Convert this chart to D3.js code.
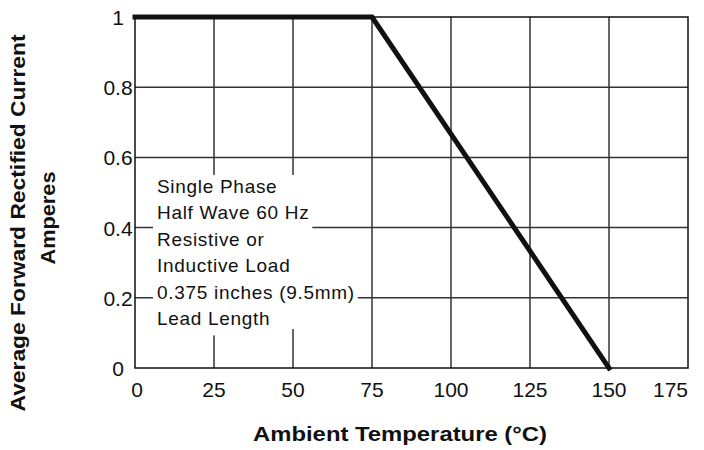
<!DOCTYPE html>
<html>
<head>
<meta charset="utf-8">
<script src="https://cdn.jsdelivr.net/npm/d3@7"></script>
<style>
  body { margin: 0; background: #fff; }
  text { font-family: "Liberation Sans", Arial, sans-serif; fill: #111; }
</style>
</head>
<body>
<div id="chart"></div>
<script>
// derating curve values
const temps = [0, 75, 150];
const current = [1, 1, 0];
const xTicks = [0, 25, 50, 75, 100, 125, 150, 175];
const yTicks = [0, 0.2, 0.4, 0.6, 0.8, 1];
const yTickLabels = ['0', '0.2', '0.4', '0.6', '0.8', '1'];
const noteLines = [
  'Single Phase',
  'Half Wave 60 Hz',
  'Resistive or',
  'Inductive Load',
  '0.375 inches (9.5mm)',
  'Lead Length'
];

const width = 704, height = 450;
const margin = { left: 135, right: 16, top: 17, bottom: 82 };

const svg = d3.select('#chart').append('svg')
  .attr('width', width)
  .attr('height', height);

const x = d3.scaleLinear().domain([0, 175]).range([margin.left, width - margin.right]);
const y = d3.scaleLinear().domain([0, 1]).range([height - margin.bottom, margin.top]);

// vertical grid
svg.append('g').selectAll('line')
  .data(xTicks.slice(1, -1))
  .enter().append('line')
  .attr('x1', d => x(d)).attr('x2', d => x(d))
  .attr('y1', y(0)).attr('y2', y(1))
  .attr('stroke', '#333').attr('stroke-width', 1.5);

// note block hides vertical lines
const noteX = 157, noteBase = 193, notePitch = 26.4;
const note = svg.append('g').style('font-size', '19px').style('letter-spacing', '0.7px');
const tmp = note.selectAll('text.m').data(noteLines).enter().append('text')
  .attr('x', noteX).attr('y', (d, i) => noteBase + i * notePitch).text(d => d);
const widths = [];
tmp.each(function () { widths.push(this.getComputedTextLength()); });
tmp.remove();

svg.insert('rect', 'g:last-child')
  .attr('x', noteX - 4).attr('y', noteBase - 18)
  .attr('width', d3.max(widths) + 8)
  .attr('height', (noteLines.length - 1) * notePitch + 22)
  .attr('fill', '#fff');

// horizontal grid
const hgrid = svg.insert('g', 'g:last-child');
hgrid.selectAll('line')
  .data(yTicks.slice(1, -1))
  .enter().append('line')
  .attr('x1', x(0)).attr('x2', x(175))
  .attr('y1', d => y(d)).attr('y2', d => y(d))
  .attr('stroke', '#333').attr('stroke-width', 1.5);

// per-line backgrounds
note.selectAll('rect').data(noteLines).enter().append('rect')
  .attr('x', noteX - 4)
  .attr('y', (d, i) => noteBase + i * notePitch - 17)
  .attr('width', (d, i) => widths[i] + 7)
  .attr('height', notePitch + 1)
  .attr('fill', '#fff');

note.selectAll('text').data(noteLines).enter().append('text')
  .attr('x', noteX).attr('y', (d, i) => noteBase + i * notePitch).text(d => d);

// frame
svg.append('rect')
  .attr('x', x(0)).attr('y', y(1))
  .attr('width', x(175) - x(0)).attr('height', y(0) - y(1))
  .attr('fill', 'none').attr('stroke', '#111').attr('stroke-width', 1.5);

// curve
const pts = temps.map((t, i) => [t, current[i]]);
svg.append('path')
  .datum(pts)
  .attr('d', d3.line().x(d => x(d[0])).y(d => y(d[1])))
  .attr('fill', 'none').attr('stroke', '#111')
  .attr('stroke-width', 5).attr('stroke-linejoin', 'miter')
  .attr('stroke-linecap', 'square');

// x tick labels
svg.append('g').style('font-size', '21px').selectAll('text')
  .data(xTicks).enter().append('text')
  .attr('x', (d, i) => i === xTicks.length - 1 ? x(d) : x(d) + (i === 0 ? 2 : 0))
  .attr('y', y(0) + 29)
  .attr('text-anchor', (d, i) => i === xTicks.length - 1 ? 'end' : 'middle')
  .text(d => d);

// y tick labels
svg.append('g').style('font-size', '21px').selectAll('text')
  .data(yTicks).enter().append('text')
  .attr('x', margin.left - 17)
  .attr('y', d => y(d) + 8)
  .attr('text-anchor', 'middle')
  .text((d, i) => yTickLabels[i]);

// axis titles
svg.append('text')
  .attr('x', 400).attr('y', 441)
  .attr('text-anchor', 'middle')
  .attr('textLength', 294).attr('lengthAdjust', 'spacingAndGlyphs')
  .style('font-size', '20px').style('font-weight', 'bold')
  .text('Ambient Temperature (°C)');

svg.append('text')
  .attr('transform', 'rotate(-90)')
  .attr('x', -223).attr('y', 25)
  .attr('text-anchor', 'middle')
  .attr('textLength', 377).attr('lengthAdjust', 'spacingAndGlyphs')
  .style('font-size', '21px').style('font-weight', 'bold')
  .text('Average Forward Rectified Current');

svg.append('text')
  .attr('transform', 'rotate(-90)')
  .attr('x', -218).attr('y', 55)
  .attr('text-anchor', 'middle')
  .attr('textLength', 93).attr('lengthAdjust', 'spacingAndGlyphs')
  .style('font-size', '21px').style('font-weight', 'bold')
  .text('Amperes');
</script>
</body>
</html>
